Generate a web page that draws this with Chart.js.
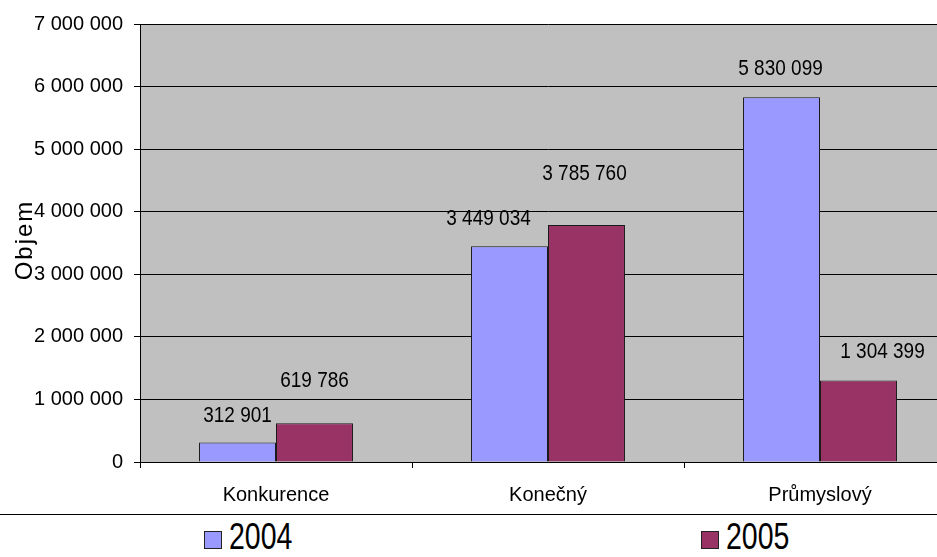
<!DOCTYPE html>
<html lang="cs">
<head>
<meta charset="utf-8">
<title>Objem 2004 / 2005</title>
<script src="https://cdn.jsdelivr.net/npm/chart.js@4"></script>
<style>
  html, body { margin: 0; padding: 0; background: #fff; overflow: hidden; }
  #wrap { position: relative; width: 937px; height: 557px; overflow: hidden; }
  #chart { position: absolute; left: 0; top: 0; }
  #rule { position: absolute; left: 0; top: 514px; width: 937px; height: 0; border-top: 1px solid #000; }
  .leg { position: absolute; top: 520px; height: 34px; font: 30px "Liberation Sans", Arial, sans-serif; color: #000; line-height: 34px; }
  .leg i { position: absolute; top: 11px; width: 16px; height: 16px; border: 1px solid #222; }
  .leg span { position: absolute; left: 25px; top: 0; transform: scale(0.95, 1.2); transform-origin: left center; }
</style>
</head>
<body>
<div id="wrap">
  <canvas id="chart" width="960" height="514"></canvas>
  <div id="rule"></div>
  <div class="leg" style="left:204px"><i style="background:#9999FF"></i><span>2004</span></div>
  <div class="leg" style="left:701px"><i style="background:#993366"></i><span>2005</span></div>
</div>
<script>
  'use strict';

  // Data
  const categories = ['Konkurence', 'Konečný', 'Průmyslový'];
  const values2004 = [312901, 3449034, 5830099];
  const values2005 = [619786, 3785760, 1304399];
  const yTicks = [0, 1000000, 2000000, 3000000, 4000000, 5000000, 6000000, 7000000];

  // label nudges (Excel placed them a bit irregularly)
  const labelShift = [
    { dx: [0, -21, -1], lift: [26, 27, 28] },
    { dx: [0, -2, 24], lift: [42, 51, 28] },
  ];

  const FONT = '"Liberation Sans", Arial, sans-serif';

  function fmt(v) {
    return String(v).replace(/\B(?=(\d{3})+(?!\d))/g, ' ');
  }

  // gray plot area
  const plotBg = {
    id: 'plotBg',
    beforeDraw(chart) {
      const a = chart.chartArea;
      const ctx = chart.ctx;
      ctx.save();
      ctx.fillStyle = '#C0C0C0';
      ctx.fillRect(a.left, a.top, a.right - a.left, a.bottom - a.top);
      ctx.restore();
    },
  };

  // value labels above bars + rotated axis title
  const barLabels = {
    id: 'barLabels',
    afterDatasetsDraw(chart) {
      const ctx = chart.ctx;
      ctx.save();
      ctx.font = '19px ' + FONT;
      ctx.fillStyle = '#000';
      ctx.textAlign = 'center';
      ctx.textBaseline = 'middle';
      chart.data.datasets.forEach(function (ds, i) {
        chart.getDatasetMeta(i).data.forEach(function (bar, j) {
          const s = labelShift[i];
          ctx.save();
          ctx.translate(bar.x + s.dx[j], bar.y - s.lift[j]);
          ctx.scale(1, 1.15);
          ctx.fillText(fmt(ds.data[j]), 0, 0);
          ctx.restore();
        });
      });
      // axis title "Objem"
      ctx.translate(25, 240);
      ctx.rotate(-Math.PI / 2);
      ctx.font = '24px ' + FONT;
      ctx.letterSpacing = '2px';
      ctx.fillText('Objem', 0, 0);
      ctx.restore();
    },
  };

  new Chart(document.getElementById('chart'), {
    type: 'bar',
    data: {
      labels: categories,
      datasets: [
        {
          label: '2004',
          data: values2004,
          backgroundColor: '#9999FF',
          borderColor: '#1a1a1a',
          borderWidth: 1,
          borderSkipped: 'bottom',
        },
        {
          label: '2005',
          data: values2005,
          backgroundColor: '#993366',
          borderColor: '#1a1a1a',
          borderWidth: 1,
          borderSkipped: 'bottom',
        },
      ],
    },
    options: {
      responsive: false,
      animation: false,
      devicePixelRatio: 1,
      layout: { padding: { top: 24, right: 4, left: 0, bottom: 0 } },
      datasets: { bar: { categoryPercentage: 0.566, barPercentage: 1.0 } },
      plugins: {
        legend: { display: false },
        tooltip: { enabled: false },
      },
      scales: {
        x: {
          grid: {
            offset: true,
            drawOnChartArea: false,
            tickLength: 6,
            color: '#000',
          },
          border: { color: '#000', width: 1 },
          ticks: {
            color: '#000',
            font: { family: FONT, size: 20 },
            padding: 15,
            maxRotation: 0,
          },
          afterFit(scale) { scale.height = 52; },
        },
        y: {
          min: 0,
          max: 7000000,
          afterBuildTicks(scale) {
            scale.ticks = yTicks.map(function (v) { return { value: v }; });
          },
          grid: { color: '#000', lineWidth: 1, tickLength: 6 },
          border: { color: '#000', width: 1 },
          ticks: {
            color: '#000',
            font: { family: FONT, size: 20 },
            padding: 11,
            callback: function (v) { return fmt(v); },
          },
          afterFit(scale) { scale.width = 140; },
        },
      },
    },
    plugins: [plotBg, barLabels],
  });
</script>
</body>
</html>
